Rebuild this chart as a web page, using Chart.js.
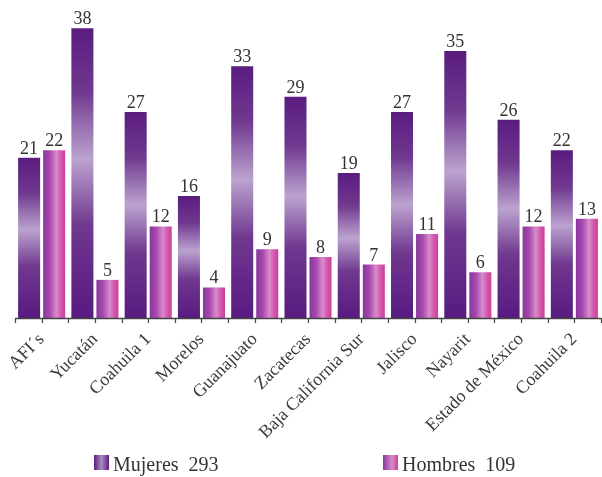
<!DOCTYPE html>
<html>
<head>
<meta charset="utf-8">
<script src="https://cdn.jsdelivr.net/npm/chart.js@4"></script>
<style>
html,body{margin:0;padding:0;background:#fff;}
#c{display:block;}
</style>
</head>
<body>
<canvas id="c" width="602" height="477"></canvas>
<script>
const categories = ["AFI´s","Yucatán","Coahuila 1","Morelos","Guanajuato","Zacatecas","Baja California Sur","Jalisco","Nayarit","Estado de México","Coahuila 2"];
const mujeres = [21,38,27,16,33,29,19,27,35,26,22];
const hombres = [22,5,12,4,9,8,7,11,6,12,13];
const seriesNames = ["Mujeres","Hombres"];

const CAT_PCT = 0.94, BAR_PCT = 0.88;
const SERIF = '"Liberation Serif","Times New Roman",serif';

function mujeresFill(ctx){
  const chart = ctx.chart;
  if (!chart.chartArea || ctx.raw === undefined) return '#6a2d8c';
  const y = chart.scales.y;
  const top = y.getPixelForValue(ctx.raw), bot = y.getPixelForValue(0);
  const g = chart.ctx.createLinearGradient(0, top, 0, bot);
  g.addColorStop(0, '#5a1c7e');
  g.addColorStop(0.22, '#70388f');
  g.addColorStop(0.45, '#bba3cf');
  g.addColorStop(0.68, '#70388f');
  g.addColorStop(1, '#581a80');
  return g;
}
function hombresFill(ctx){
  const chart = ctx.chart;
  if (!chart.chartArea || ctx.dataIndex === undefined) return '#c04aa8';
  const x = chart.scales.x;
  const c0 = x.getPixelForValue(0), c1 = x.getPixelForValue(1);
  const slot = (c1 - c0) * CAT_PCT / 2;
  const w = slot * BAR_PCT;
  const cx = x.getPixelForValue(ctx.dataIndex) + slot / 2;
  const g = chart.ctx.createLinearGradient(cx - w/2, 0, cx + w/2, 0);
  g.addColorStop(0, '#86389c');
  g.addColorStop(0.3, '#a848ae');
  g.addColorStop(0.6, '#d98ccb');
  g.addColorStop(0.8, '#d25aae');
  g.addColorStop(1, '#cf3d97');
  return g;
}

const decor = {
  id: 'decor',
  afterDatasetsDraw(chart){
    const c = chart.ctx, x = chart.scales.x, area = chart.chartArea;
    c.save();
    c.font = '18px ' + SERIF;
    c.fillStyle = '#333';
    c.textAlign = 'center';
    c.textBaseline = 'alphabetic';
    chart.data.datasets.forEach((ds, di) => {
      const meta = chart.getDatasetMeta(di);
      meta.data.forEach((bar, i) => {
        c.fillText(String(ds.data[i]), bar.x, bar.y - 4);
      });
    });
    c.strokeStyle = '#454545';
    c.lineWidth = 1.6;
    c.beginPath();
    c.moveTo(area.left, area.bottom + 0.5);
    c.lineTo(area.right, area.bottom + 0.5);
    c.stroke();
    c.lineWidth = 1.2;
    const half = (x.getPixelForValue(1) - x.getPixelForValue(0)) / 2;
    c.beginPath();
    for (let k = 0; k <= categories.length * 2; k++) {
      const px = Math.round(x.getPixelForValue(0) - half + k * half) + 0.5;
      if (px > area.right + 1) break;
      c.moveTo(px, area.bottom);
      c.lineTo(px, area.bottom + 5);
    }
    c.stroke();
    c.restore();
  },
  afterDraw(chart){
    const c = chart.ctx;
    c.save();
    const items = [
      {name: seriesNames[0], total: mujeres.reduce((a,b)=>a+b,0), x: 94, kind: 0},
      {name: seriesNames[1], total: hombres.reduce((a,b)=>a+b,0), x: 383, kind: 1}
    ];
    const by = 455, bs = 15;
    items.forEach(it => {
      const g = c.createLinearGradient(it.x, 0, it.x + bs, 0);
      if (it.kind === 0) {
        g.addColorStop(0, '#5a1c7e'); g.addColorStop(0.5, '#a98cc2'); g.addColorStop(1, '#5a1c7e');
      } else {
        g.addColorStop(0, '#86389c'); g.addColorStop(0.6, '#d98ccb'); g.addColorStop(1, '#cf3d97');
      }
      c.fillStyle = g;
      c.fillRect(it.x, by, bs, bs);
      c.font = '20px ' + SERIF;
      c.fillStyle = '#333';
      c.textAlign = 'left';
      c.textBaseline = 'alphabetic';
      c.fillText(it.name + '  ' + it.total, it.x + bs + 4, by + bs + 1);
    });
    c.restore();
  }
};

new Chart(document.getElementById('c'), {
  type: 'bar',
  data: {
    labels: categories,
    datasets: [
      {label: seriesNames[0], data: mujeres, backgroundColor: mujeresFill, borderWidth: 0},
      {label: seriesNames[1], data: hombres, backgroundColor: hombresFill, borderWidth: 0}
    ]
  },
  options: {
    responsive: false,
    animation: false,
    devicePixelRatio: 1,
    categoryPercentage: CAT_PCT,
    barPercentage: BAR_PCT,
    layout: {padding: {left: 15, right: 1, top: 0, bottom: 0}},
    plugins: {legend: {display: false}, tooltip: {enabled: false}},
    scales: {
      y: {display: false, min: 0, max: 41.7},
      x: {
        grid: {display: false},
        border: {display: false},
        ticks: {
          minRotation: 45, maxRotation: 45, autoSkip: false,
          color: '#3a3a3a', padding: 3,
          font: {family: SERIF, size: 18}
        },
        afterFit(scale){ scale.height = 159; }
      }
    }
  },
  plugins: [decor]
});
</script>
</body>
</html>
